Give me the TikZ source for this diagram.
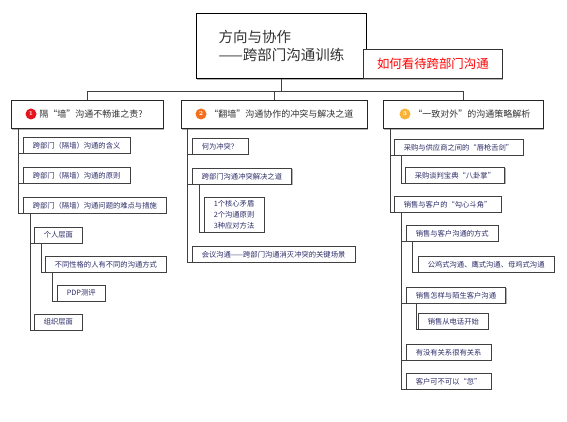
\documentclass[tikz,border=0pt]{standalone}
\usepackage{fontspec}
\usepackage{xcolor}
\usepackage{tikz}
\usetikzlibrary{positioning, shadows}
\newfontfamily\cjk{Noto Sans CJK SC}
\definecolor{InkGray}{RGB}{51,51,51}
\definecolor{SubText}{RGB}{45,45,105}
\definecolor{DotRed}{RGB}{230,20,30}
\definecolor{DotOrange}{RGB}{245,110,30}
\definecolor{DotYellow}{RGB}{247,178,55}

\begin{document}
\begin{tikzpicture}[
  x=1pt, y=-1pt,
  font=\cjk,
  shade/.style={drop shadow={shadow xshift=1pt, shadow yshift=-1.2pt, fill=black!30, opacity=1}},
  titlebox/.style={rectangle, draw=black, line width=0.9pt, fill=white, shade,
                   anchor=north west, minimum width=170pt, minimum height=65pt,
                   align=left, text=InkGray, font=\cjk\fontsize{14.5}{18}\selectfont},
  viewbox/.style={rectangle, draw=black!80, line width=0.7pt, fill=white, shade,
                  anchor=north west, minimum width=139pt, minimum height=29pt,
                  text=red, font=\cjk\fontsize{12.4}{14}\selectfont},
  branch/.style={rectangle, draw=black!85, line width=0.8pt, fill=white, shade,
                 anchor=north west, minimum height=28pt},
  numdot/.style={circle, inner sep=0pt, minimum size=11pt, text=white,
                 font=\bfseries\fontsize{6}{6}\selectfont},
  branchtext/.style={inner sep=1pt, text=InkGray, font=\cjk\fontsize{9}{11}\selectfont},
  sub/.style={rectangle, draw=black!75, line width=0.5pt, fill=white, shade,
              anchor=north west, minimum height=16pt, inner xsep=9.5pt, inner ysep=2pt,
              align=left, text=SubText, font=\cjk\fontsize{7.3}{11}\selectfont},
  link/.style={draw=black!75, line width=0.6pt},
]
\useasboundingbox[fill=white] (0,0) rectangle (567,422);

% title and side note
\node[titlebox] (title) at (196,13) {方向与协作\\——跨部门沟通训练};
\node[viewbox] (view) at (363,49) {如何看待跨部门沟通};

% three main branches
\node[branch, minimum width=152pt] (b1) at (11,100) {};
\node[branch, minimum width=186pt] (b2) at (181,100) {};
\node[branch, minimum width=160pt] (b3) at (383,100) {};
\node[numdot, fill=DotRed] (n1) at (31,114) {1};
\node[numdot, fill=DotOrange] (n2) at (201,114) {2};
\node[numdot, fill=DotYellow] (n3) at (405,114) {3};
\node[branchtext, right=1.5pt of n1] (t1) {隔“墙”沟通不畅谁之责?};
\node[branchtext, right=1.5pt of n2] (t2) {“翻墙”沟通协作的冲突与解决之道};
\node[branchtext, right=1.5pt of n3] (t3) {“一致对外”的沟通策略解析};

\draw[link] (title.south) -- ++(0,12) coordinate (hub);
\draw[link] (b1.north) |- (hub) -| (b3.north);
\draw[link] (hub) -| (b2.north);

% branch 1
\node[sub] (c1a) at (23,137) {跨部门（隔墙）沟通的含义};
\node[sub] (c1b) at (23,167) {跨部门（隔墙）沟通的原则};
\node[sub] (c1c) at (23,197) {跨部门（隔墙）沟通问题的难点与措施};
\node[sub] (c1d) at (34,227) {个人层面};
\node[sub] (c1e) at (45,256) {不同性格的人有不同的沟通方式};
\node[sub] (c1f) at (57,285) {PDP测评};
\node[sub] (c1g) at (34,314) {组织层面};
\draw[link] ([xshift=7pt]b1.south west) |- (c1a.south west);
\draw[link] ([xshift=7pt]b1.south west) |- (c1b.south west);
\draw[link] ([xshift=7pt]b1.south west) |- (c1c.south west);
\draw[link] ([xshift=7pt]c1c.south west) |- (c1d.south west);
\draw[link] ([xshift=7pt]c1c.south west) |- (c1g.south west);
\draw[link] ([xshift=7pt]c1d.south west) |- (c1e.south west);
\draw[link] ([xshift=7pt]c1e.south west) |- (c1f.south west);

% branch 2
\node[sub] (c2a) at (192,138) {何为冲突？};
\node[sub] (c2b) at (192,168) {跨部门沟通冲突解决之道};
\node[sub, inner ysep=3pt] (c2c) at (204,197) {1个核心矛盾\\2个沟通原则\\3种应对方法};
\node[sub] (c2d) at (192,246) {会议沟通——跨部门沟通消灭冲突的关键场景};
\draw[link] ([xshift=6pt]b2.south west) |- (c2a.south west);
\draw[link] ([xshift=6pt]b2.south west) |- (c2b.south west);
\draw[link] ([xshift=6pt]b2.south west) |- (c2d.south west);
\draw[link] ([xshift=7pt]c2b.south west) |- (c2c.south west);

% branch 3
\node[sub] (c3a) at (394,139) {采购与供应商之间的“唇枪舌剑”};
\node[sub] (c3b) at (405,167) {采购谈判宝典“八卦掌”};
\node[sub] (c3c) at (394,196) {销售与客户的“勾心斗角”};
\node[sub] (c3d) at (406,225) {销售与客户沟通的方式};
\node[sub] (c3e) at (418,256) {公鸡式沟通、鹰式沟通、母鸡式沟通};
\node[sub] (c3f) at (406,287) {销售怎样与陌生客户沟通};
\node[sub] (c3g) at (418,313) {销售从电话开始};
\node[sub] (c3h) at (406,344) {有没有关系很有关系};
\node[sub] (c3i) at (406,373) {客户可不可以“忽”};
\draw[link] ([xshift=7pt]b3.south west) |- (c3a.south west);
\draw[link] ([xshift=7pt]b3.south west) |- (c3c.south west);
\draw[link] ([xshift=7pt]c3a.south west) |- (c3b.south west);
\draw[link] ([xshift=7pt]c3c.south west) |- (c3d.south west);
\draw[link] ([xshift=7pt]c3c.south west) |- (c3f.south west);
\draw[link] ([xshift=7pt]c3c.south west) |- (c3h.south west);
\draw[link] ([xshift=7pt]c3c.south west) |- (c3i.south west);
\draw[link] ([xshift=6pt]c3d.south west) |- (c3e.south west);
\draw[link] ([xshift=10pt]c3f.south west) |- (c3g.south west);

\end{tikzpicture}
\end{document}
